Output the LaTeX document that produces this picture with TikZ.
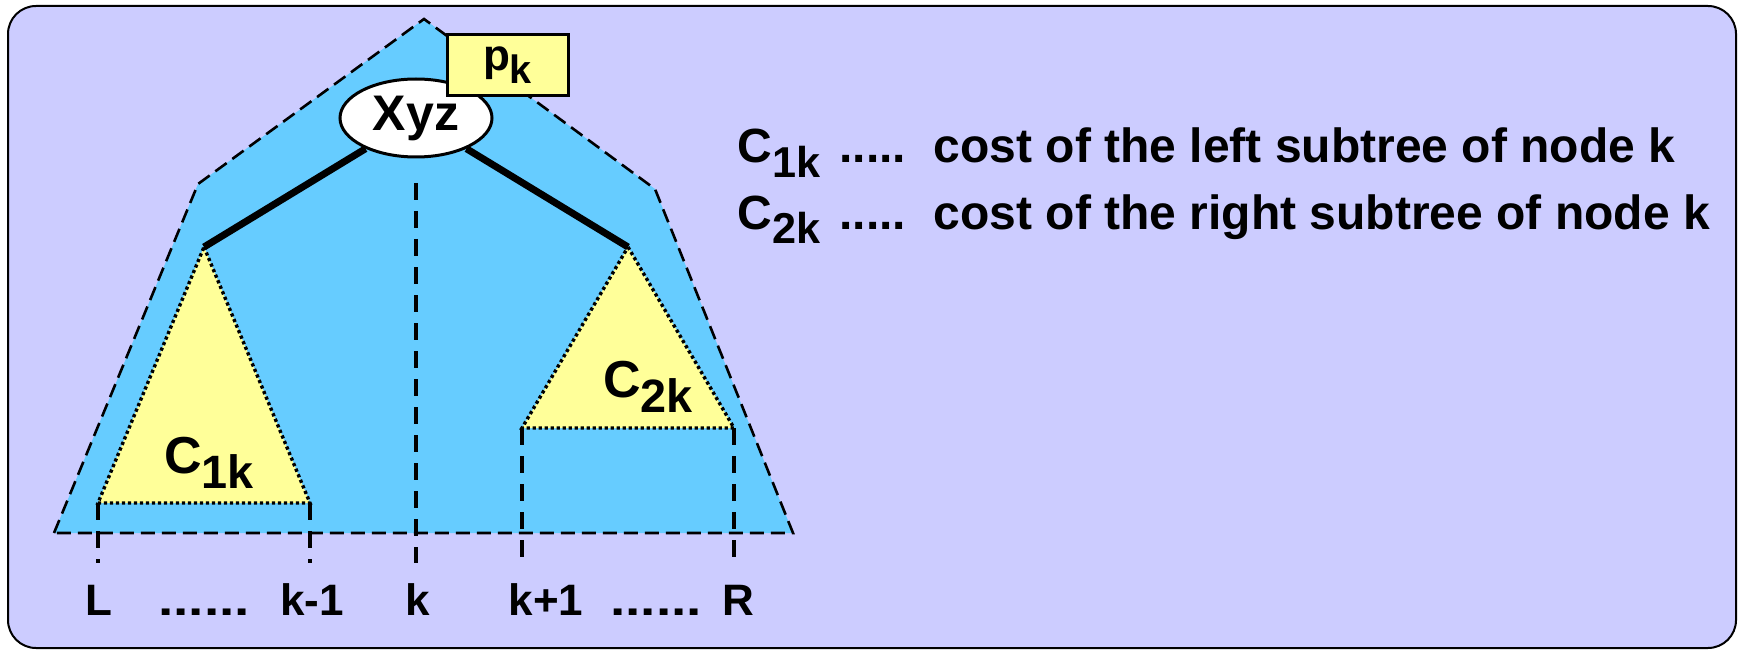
\documentclass[tikz,border=0pt]{standalone}
\usepackage{fontspec}
\setmainfont{Liberation Sans}
\usepackage{graphicx}
\usetikzlibrary{shapes.geometric}
\definecolor{lav}{HTML}{CCCCFF}
\definecolor{sky}{HTML}{66CCFF}
\definecolor{pale}{HTML}{FFFF99}
\newcommand\lsub[1]{\raisebox{-0.3em}{\scalebox{0.9}{#1}}}
\newcommand\wdots{\scalebox{1.25}[1]{......}}
\begin{document}
\begin{tikzpicture}[x=0.5pt,y=-0.5pt,
  outline/.style={dash pattern=on 7pt off 3.5pt, line width=1.3pt},
  vdash/.style={dash pattern=on 8.5pt off 5.5pt, line width=1.8pt},
  dotline/.style={dash pattern=on 1.6pt off 1.4pt, line width=1.7pt},
  edge/.style={line width=3.5pt},
  lbl/.style={font=\fontsize{22}{26}\selectfont\bfseries, anchor=base, inner sep=0pt},
  txt/.style={font=\fontsize{24}{28}\selectfont\bfseries, anchor=base west, inner sep=0pt},
  tri/.style={font=\fontsize{26}{30}\selectfont\bfseries, anchor=base west, inner sep=0pt}]
\useasboundingbox (0,0) rectangle (1744,652);
\fill[white] (0,0) rectangle (1744,652);
\draw[fill=lav, rounded corners=14pt, line width=1pt] (8,6) rectangle (1736,648);
% outer blue region
\coordinate (apex) at (424,19);
\coordinate (ls) at (198,184);
\coordinate (bl) at (54,533);
\coordinate (br) at (793,533);
\coordinate (rs) at (655,189);
\fill[sky] (apex) -- (rs) -- (br) -- (bl) -- (ls) -- cycle;
\draw[outline] (bl) -- (ls) -- (apex) -- (rs) -- (br) -- cycle;
% subtrees
\coordinate (la) at (204,247);
\coordinate (lb1) at (98,503);
\coordinate (lb2) at (310,503);
\coordinate (ra) at (628,247);
\coordinate (rb1) at (522,428);
\coordinate (rb2) at (734,428);
\fill[pale] (la) -- (lb2) -- (lb1) -- cycle;
\fill[pale] (ra) -- (rb2) -- (rb1) -- cycle;
\draw[dotline] (la) -- (lb2) -- (lb1) -- cycle;
\draw[dotline] (ra) -- (rb2) -- (rb1) -- cycle;
% vertical dashed lines
\coordinate (ktop) at (416,183);
\coordinate (kbot) at (416,563);
\coordinate (lbot) at (98,563);
\coordinate (kmbot) at (310,563);
\coordinate (kpbot) at (522,563);
\coordinate (rbot) at (734,563);
\draw[vdash] (ktop) -- (kbot);
\draw[vdash] (lb1) -- (lbot);
\draw[vdash] (lb2) -- (kmbot);
\draw[vdash] (rb1) -- (kpbot);
\draw[vdash] (rb2) -- (rbot);
% root
\node[ellipse, draw, line width=1.5pt, fill=white, minimum width=76pt, minimum height=39pt, inner sep=0pt,
  font=\fontsize{25}{28}\selectfont\bfseries] (xyz) at (416,118) {Xyz};
\draw[edge] (xyz) -- (la);
\draw[edge] (xyz) -- (ra);
\node[draw, line width=1.5pt, fill=pale, minimum width=60.5pt, minimum height=30.5pt, inner sep=0pt,
  font=\fontsize{22}{26}\selectfont\bfseries] (pk) at (507.5,65.5) {p\lsub{k}};
% subtree labels
\node[tri] (c1) at (164,473) {C\lsub{1k}};
\node[tri] (c2) at (603,397) {C\lsub{2k}};
% bottom labels
\node[lbl] (L) at (99,615) {L};
\node[lbl] (d1) at (204,615) {\wdots};
\node[lbl] (km) at (312,615) {k-1};
\node[lbl] (k) at (418,615) {k};
\node[lbl] (kp) at (546,615) {k+1};
\node[lbl] (d2) at (656,615) {\wdots};
\node[lbl] (R) at (738,615) {R};
% legend
\node[txt] (t1) at (737,163) {C\lsub{1k}\hspace{3pt} ..... \hspace{5pt}cost of the left subtree of node k};
\node[txt] (t2) at (737,229) {C\lsub{2k}\hspace{3pt} ..... \hspace{5pt}cost of the right subtree of node k};
\end{tikzpicture}
\end{document}
